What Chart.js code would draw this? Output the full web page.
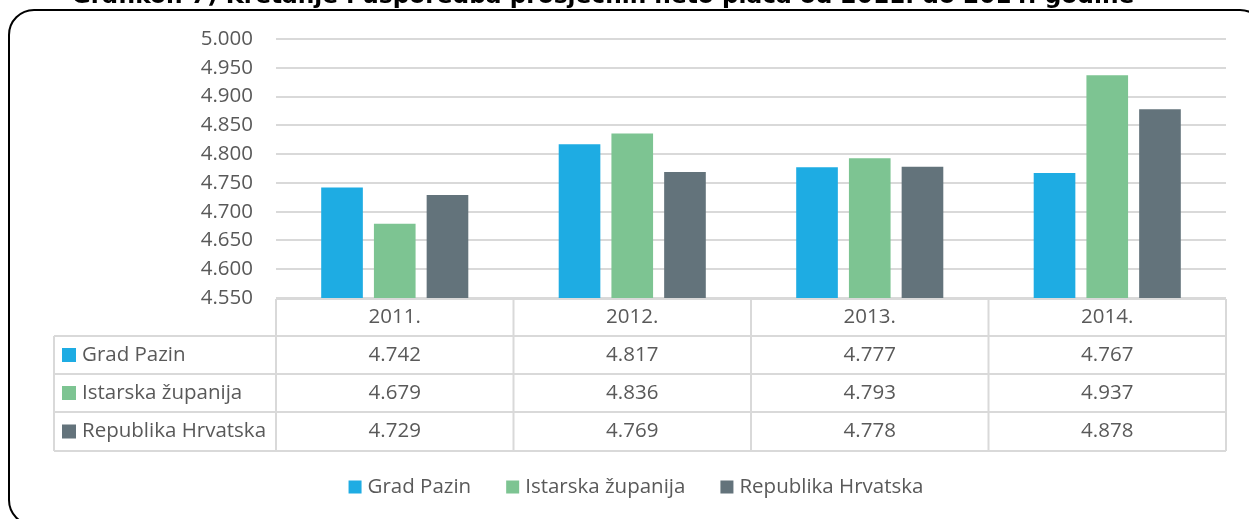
<!DOCTYPE html>
<html>
<head>
<meta charset="utf-8">
<script src="https://cdn.jsdelivr.net/npm/chart.js@4/dist/chart.umd.min.js"></script>
<style>
html,body{margin:0;padding:0;background:#fff;}
#wrap{width:1249px;height:519px;position:relative;}
</style>
</head>
<body>
<div id="wrap"><canvas id="c" width="1249" height="519"></canvas></div>
<script>
const titleText = "Grafikon 7) Kretanje i usporedba prosječnih neto plaća od 2011. do 2014. godine";
const categories = ["2011.", "2012.", "2013.", "2014."];
const seriesNames = ["Grad Pazin", "Istarska županija", "Republika Hrvatska"];
const gradPazin = [4742, 4817, 4777, 4767];
const istarska = [4679, 4836, 4793, 4937];
const hrvatska = [4729, 4769, 4778, 4878];
const seriesColors = ["#1EACE3", "#7DC492", "#63737B"];
const yMin = 4550, yMax = 5000, yStep = 50;

const FONT = "'Open Sans', 'Noto Sans', sans-serif";
const TEXT = "#595959";
const GRID = "#D9D9D9";

function fmt(v){
  const s = String(Math.round(v));
  return s.replace(/\B(?=(\d{3})+(?!\d))/g, ".");
}

const decor = {
  id: 'decor',
  beforeDraw(chart){
    const ctx = chart.ctx;
    ctx.save();
    ctx.fillStyle = '#fff';
    ctx.fillRect(0,0,chart.width,chart.height);
    // rounded frame
    const x=9,y=10,w=1256,h=515,r=25;
    ctx.beginPath();
    ctx.moveTo(x+r,y);
    ctx.lineTo(x+w-r,y);
    ctx.arcTo(x+w,y,x+w,y+r,r);
    ctx.lineTo(x+w,y+h-r);
    ctx.arcTo(x+w,y+h,x+w-r,y+h,r);
    ctx.lineTo(x+r,y+h);
    ctx.arcTo(x,y+h,x,y+h-r,r);
    ctx.lineTo(x,y+r);
    ctx.arcTo(x,y,x+r,y,r);
    ctx.closePath();
    ctx.lineWidth = 2;
    ctx.strokeStyle = '#000';
    ctx.stroke();
    // title (clipped at top)
    ctx.fillStyle = '#000';
    let fs = 22;
    ctx.font = "bold " + fs + "px 'DejaVu Sans', sans-serif";
    const tw = ctx.measureText(titleText).width;
    fs = fs * 1063 / tw;
    ctx.font = "bold " + fs.toFixed(2) + "px 'DejaVu Sans', sans-serif";
    ctx.textAlign = 'center';
    ctx.textBaseline = 'alphabetic';
    ctx.fillText(titleText, 603, 3);
    ctx.restore();
  },
  afterDraw(chart){
    const ctx = chart.ctx;
    const xs = chart.scales.x;
    const area = chart.chartArea;
    const n = categories.length;
    const catW = (area.right - area.left) / n;
    const tableTop = 299;
    const rowY = [tableTop, 336, 374, 412, 451];
    const labelLeft = 54;
    ctx.save();
    ctx.strokeStyle = GRID;
    ctx.lineWidth = 2;
    ctx.beginPath();
    ctx.moveTo(area.left, rowY[0]); ctx.lineTo(area.right, rowY[0]);
    for (let k=1;k<rowY.length;k++){
      ctx.moveTo(labelLeft, rowY[k]); ctx.lineTo(area.right, rowY[k]);
    }
    ctx.moveTo(labelLeft, rowY[1]); ctx.lineTo(labelLeft, rowY[4]);
    for (let i=0;i<=n;i++){
      const xx = i<n ? xs.getPixelForValue(i) - catW/2 : xs.getPixelForValue(n-1) + catW/2;
      ctx.moveTo(xx, rowY[0]); ctx.lineTo(xx, rowY[4]);
    }
    ctx.stroke();
    ctx.font = "20.5px " + FONT;
    ctx.fillStyle = TEXT;
    ctx.textAlign = 'center';
    ctx.textBaseline = 'middle';
    categories.forEach((c,i)=>{
      ctx.fillText(c, xs.getPixelForValue(i), (rowY[0]+rowY[1])/2);
    });
    chart.data.datasets.forEach((ds,j)=>{
      const cy = (rowY[j+1]+rowY[j+2])/2;
      ds.data.forEach((v,i)=>{
        ctx.textAlign='center';
        ctx.fillStyle = TEXT;
        ctx.fillText(fmt(v), xs.getPixelForValue(i), cy);
      });
      ctx.fillStyle = ds.backgroundColor;
      ctx.fillRect(62, cy-7, 14, 14);
      ctx.fillStyle = TEXT;
      ctx.textAlign='left';
      ctx.fillText(ds.label, 82, cy);
    });
    // legend
    const ly = 487;
    const box = 13, gapBox = 6, gapItem = 35;
    const widths = chart.data.datasets.map(ds=>ctx.measureText(ds.label).width);
    const total = widths.reduce((a,b)=>a+b,0) + chart.data.datasets.length*(box+gapBox) + gapItem*(chart.data.datasets.length-1);
    let lx = 636 - total/2;
    chart.data.datasets.forEach((ds,j)=>{
      ctx.fillStyle = ds.backgroundColor;
      ctx.fillRect(lx, ly-6.5, box, box);
      lx += box + gapBox;
      ctx.fillStyle = TEXT;
      ctx.textAlign='left';
      ctx.fillText(ds.label, lx, ly);
      lx += widths[j] + gapItem;
    });
    ctx.restore();
  }
};

new Chart(document.getElementById('c'), {
  type: 'bar',
  data: {
    labels: categories,
    datasets: [
      {label: seriesNames[0], data: gradPazin, backgroundColor: seriesColors[0]},
      {label: seriesNames[1], data: istarska, backgroundColor: seriesColors[1]},
      {label: seriesNames[2], data: hrvatska, backgroundColor: seriesColors[2]}
    ]
  },
  options: {
    responsive: false,
    animation: false,
    devicePixelRatio: 1,
    layout: {padding: {top: 39, bottom: 221, left: 0, right: 23}},
    datasets: {bar: {categoryPercentage: 0.666, barPercentage: 0.79}},
    plugins: {legend: {display: false}, title: {display: false}, tooltip: {enabled: false}},
    scales: {
      x: {display: false, offset: true},
      y: {
        min: yMin, max: yMax,
        afterFit(scale){ scale.width = 276; },
        border: {display: false},
        grid: {color: GRID, lineWidth: 2, drawTicks: false},
        ticks: {
          stepSize: yStep, padding: 23, color: TEXT,
          font: {family: FONT, size: 20.5},
          callback: (v)=>fmt(v)
        }
      }
    }
  },
  plugins: [decor]
});
</script>
</body>
</html>
